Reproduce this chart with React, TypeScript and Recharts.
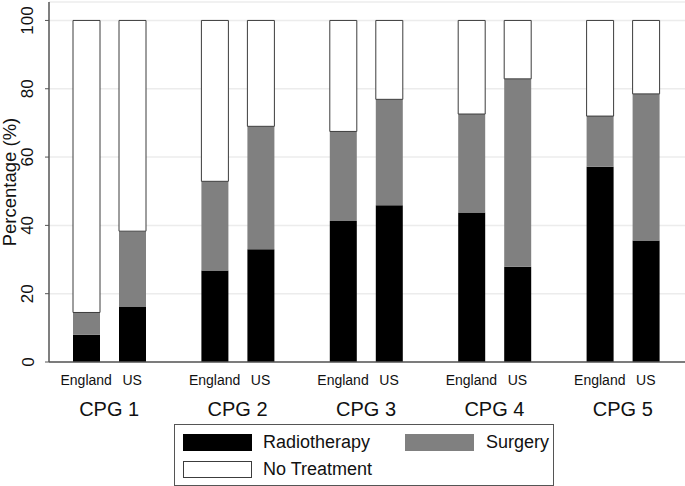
import { BarChart, Bar, XAxis, YAxis, CartesianGrid } from "recharts";

const categories = ["CPG 1", "CPG 2", "CPG 3", "CPG 4", "CPG 5"];
const countries = ["England", "US"];

const englandRadiotherapy = [8.0, 26.8, 41.3, 43.8, 57.2];
const englandSurgery = [6.5, 26.1, 26.2, 28.8, 14.8];
const englandNoTreatment = [85.5, 47.1, 32.5, 27.4, 28.0];

const usRadiotherapy = [16.1, 33.0, 45.9, 27.9, 35.6];
const usSurgery = [22.2, 36.0, 31.0, 55.0, 42.9];
const usNoTreatment = [61.7, 31.0, 23.1, 17.1, 21.5];

const yTicks = [0, 20, 40, 60, 80, 100];

const series = [
  { name: "Radiotherapy", key: "radio", fill: "#000000", stroke: "none" },
  { name: "Surgery", key: "surg", fill: "#808080", stroke: "none" },
  { name: "No Treatment", key: "none", fill: "#ffffff", stroke: "#3c3c3c" },
];

const data = categories.map((name, i) => ({
  name,
  enRadio: englandRadiotherapy[i],
  enSurg: englandSurgery[i],
  enNone: englandNoTreatment[i],
  usRadio: usRadiotherapy[i],
  usSurg: usSurgery[i],
  usNone: usNoTreatment[i],
}));

const FONT = "Arial, 'Liberation Sans', sans-serif";
const AXIS = "#555555";

const XTick = (props: any) => {
  const { x, y, payload } = props;
  return (
    <g fontFamily={FONT} fill="#111">
      <text x={x - 23} y={y + 21} textAnchor="middle" fontSize={14}>
        {countries[0]}
      </text>
      <text x={x + 23} y={y + 21} textAnchor="middle" fontSize={14}>
        {countries[1]}
      </text>
      <text x={x} y={y + 52} textAnchor="middle" fontSize={20}>
        {payload.value}
      </text>
    </g>
  );
};

const YTick = (props: any) => {
  const { y, payload } = props;
  return (
    <text
      x={28}
      y={y}
      transform={`rotate(-90, 28, ${y})`}
      textAnchor="middle"
      dominantBaseline="central"
      fontSize={17}
      fontFamily={FONT}
      fill="#111"
    >
      {payload.value}
    </text>
  );
};

const YTitle = (props: any) => {
  const { viewBox } = props;
  const cy = viewBox.y + viewBox.height / 2;
  return (
    <text
      x={9}
      y={cy}
      transform={`rotate(-90, 9, ${cy})`}
      textAnchor="middle"
      dominantBaseline="central"
      fontSize={18.5}
      fontFamily={FONT}
      fill="#111"
    >
      Percentage (%)
    </text>
  );
};

const ChartLegend = () => {
  const pos = [
    { left: 8, top: 9, textLeft: 88 },
    { left: 230, top: 9, textLeft: 311 },
    { left: 8, top: 36, textLeft: 88 },
  ];
  return (
    <div
      style={{
        position: "absolute",
        left: 174,
        top: 424,
        width: 378,
        height: 60,
        border: `1px solid ${AXIS}`,
        fontFamily: FONT,
        fontSize: 18,
        color: "#111",
      }}
    >
      {series.map((s, i) => (
        <div key={s.key}>
          <div
            style={{
              position: "absolute",
              left: pos[i].left,
              top: pos[i].top,
              width: 69,
              height: 17,
              boxSizing: "border-box",
              background: s.fill,
              border: s.stroke === "none" ? "none" : `1px solid ${s.stroke}`,
            }}
          />
          <div
            style={{
              position: "absolute",
              left: pos[i].textLeft,
              top: pos[i].top - 3,
              lineHeight: "22px",
              whiteSpace: "nowrap",
            }}
          >
            {s.name}
          </div>
        </div>
      ))}
    </div>
  );
};

export default function App() {
  return (
    <div style={{ position: "relative", width: 685, height: 486, background: "#fff" }}>
      <style>{`body{margin:0;overflow:hidden;background:#fff}`}</style>
      <BarChart
        width={685}
        height={486}
        data={data}
        margin={{ top: 2, right: 0, bottom: 0, left: 0 }}
        barSize={27}
        barGap={19}
      >
        <CartesianGrid horizontal vertical={false} stroke="#ececec" strokeWidth={1.5} />
        <XAxis
          dataKey="name"
          height={124}
          tickSize={0}
          tickLine={false}
          interval={0}
          padding={{ left: -4, right: -2 }}
          axisLine={{ stroke: AXIS, strokeWidth: 1.5 }}
          tick={<XTick />}
        />
        <YAxis
          width={49}
          domain={[0, 105.4]}
          ticks={yTicks}
          tickSize={4}
          axisLine={{ stroke: AXIS, strokeWidth: 1.5 }}
          tickLine={{ stroke: AXIS }}
          tick={<YTick />}
          label={<YTitle />}
        />
        <Bar dataKey="enRadio" stackId="en" fill="#000000" isAnimationActive={false} />
        <Bar dataKey="enSurg" stackId="en" fill="#808080" isAnimationActive={false} />
        <Bar dataKey="enNone" stackId="en" fill="#ffffff" stroke="#3c3c3c" isAnimationActive={false} />
        <Bar dataKey="usRadio" stackId="us" fill="#000000" isAnimationActive={false} />
        <Bar dataKey="usSurg" stackId="us" fill="#808080" isAnimationActive={false} />
        <Bar dataKey="usNone" stackId="us" fill="#ffffff" stroke="#3c3c3c" isAnimationActive={false} />
      </BarChart>
      <ChartLegend />
    </div>
  );
}
